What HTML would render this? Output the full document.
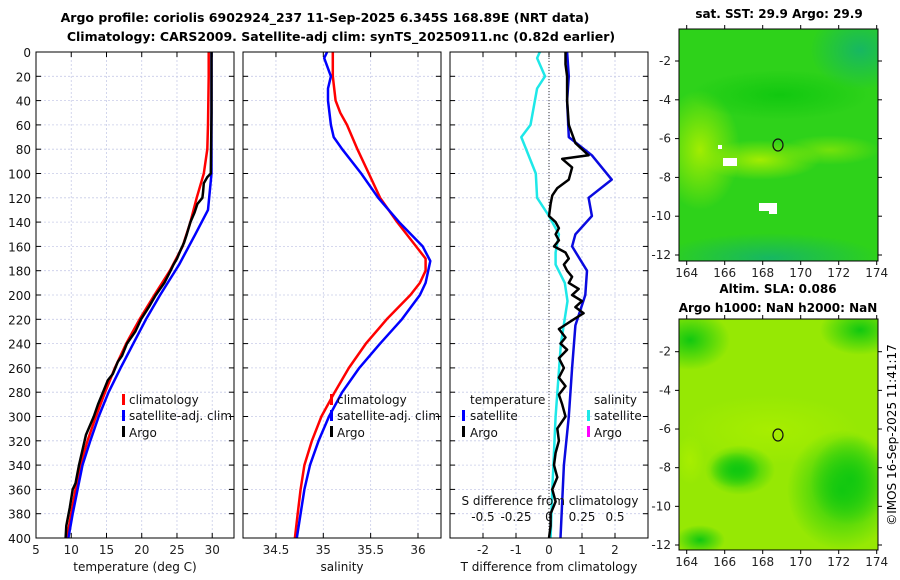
<!DOCTYPE html>
<html><head><meta charset="utf-8"><style>
body{margin:0;background:#fff;}
svg{display:block;font-family:"DejaVu Sans","Liberation Sans",sans-serif;}
</style></head><body>
<svg id="c" width="900" height="580" viewBox="0 0 900 580">
<defs>
<radialGradient id="yg1" cx="50%" cy="50%" r="50%"><stop offset="0" stop-color="#a8ee00" stop-opacity="0.95"/><stop offset="1" stop-color="#a8ee00" stop-opacity="0"/></radialGradient>
<radialGradient id="gr1" cx="50%" cy="50%" r="50%"><stop offset="0" stop-color="#11c810" stop-opacity="1"/><stop offset="1" stop-color="#11c810" stop-opacity="0"/></radialGradient>
<radialGradient id="tl1" cx="50%" cy="50%" r="50%"><stop offset="0" stop-color="#14b46a" stop-opacity="0.9"/><stop offset="1" stop-color="#14b46a" stop-opacity="0"/></radialGradient>
<clipPath id="cm1"><rect x="679" y="29" width="199" height="232"/></clipPath>
<clipPath id="cm2"><rect x="679" y="319" width="199" height="231"/></clipPath>
</defs>
<text x="325" y="22" font-size="12.5" font-weight="bold" text-anchor="middle">Argo profile: coriolis 6902924_237 11-Sep-2025 6.345S 168.89E (NRT data)</text>
<text x="341" y="41" font-size="12.5" font-weight="bold" text-anchor="middle">Climatology: CARS2009. Satellite-adj clim: synTS_20250911.nc (0.82d earlier)</text>
<g id="plots"></g>
<g>
<text x="779" y="18" font-size="12" font-weight="bold" text-anchor="middle">sat. SST: 29.9 Argo: 29.9</text>
<g clip-path="url(#cm1)">
<rect x="679" y="29" width="199" height="232" fill="#2ed21a"/>
<ellipse cx="860" cy="50" rx="50" ry="40" fill="url(#tl1)"/>
<ellipse cx="700" cy="150" rx="40" ry="60" fill="url(#yg1)"/>
<ellipse cx="760" cy="160" rx="60" ry="20" fill="url(#yg1)"/>
<ellipse cx="830" cy="150" rx="50" ry="15" fill="url(#yg1)" opacity="0.6"/>
<ellipse cx="780" cy="95" rx="90" ry="25" fill="url(#gr1)"/>
<ellipse cx="770" cy="258" rx="110" ry="25" fill="url(#tl1)"/>
<rect x="723" y="158" width="14" height="8" fill="#fff"/>
<rect x="759" y="203" width="18" height="8" fill="#fff"/>
<rect x="769" y="208" width="8" height="6" fill="#fff"/>
<rect x="718" y="145" width="4" height="4" fill="#fff"/>
</g>
<rect x="679" y="29" width="199" height="232" fill="none" stroke="#000" stroke-width="1"/>
<ellipse cx="778" cy="145" rx="5" ry="6" fill="none" stroke="#111" stroke-width="1.2"/>
</g>
<g>
<text x="778" y="293" font-size="12" font-weight="bold" text-anchor="middle">Altim. SLA: 0.086</text>
<text x="778" y="312" font-size="12" font-weight="bold" text-anchor="middle">Argo h1000: NaN h2000: NaN</text>
<g clip-path="url(#cm2)">
<rect x="679" y="319" width="199" height="231" fill="#96e804"/>
<ellipse cx="770" cy="430" rx="90" ry="35" fill="url(#yg1)"/>
<ellipse cx="690" cy="340" rx="40" ry="30" fill="url(#gr1)"/>
<ellipse cx="860" cy="330" rx="40" ry="25" fill="url(#gr1)"/>
<ellipse cx="842" cy="490" rx="55" ry="60" fill="url(#gr1)"/>
<ellipse cx="850" cy="480" rx="40" ry="45" fill="url(#gr1)"/>
<ellipse cx="740" cy="470" rx="35" ry="25" fill="url(#gr1)"/>
<ellipse cx="735" cy="470" rx="25" ry="18" fill="url(#gr1)"/>
<ellipse cx="700" cy="540" rx="25" ry="15" fill="url(#gr1)"/>
<ellipse cx="690" cy="460" rx="15" ry="25" fill="url(#yg1)"/>
</g>
<rect x="679" y="319" width="199" height="231" fill="none" stroke="#000" stroke-width="1"/>
<ellipse cx="778" cy="435" rx="5" ry="6" fill="none" stroke="#111" stroke-width="1.2"/>
<text transform="translate(896,435) rotate(-90)" font-size="12" text-anchor="middle">©IMOS 16-Sep-2025 11:41:17</text>
</g>
<g id="mapaxes"></g>
</svg>
<script>
const depthTicks=[0,20,40,60,80,100,120,140,160,180,200,220,240,260,280,300,320,340,360,380,400];
const tempTicks=[5,10,15,20,25,30];
const salTicks=[34.5,35,35.5,36];
const tdiffTicks=[-2,-1,0,1,2];
const sdiffTicks=[-0.5,-0.25,0,0.25,0.5];
const sdiffTickLabels=["-0.5","-0.25","0","0.25","0.5"];
const climTDepth=[0,20,60,80,100,120,140,160,180,200,220,240,260,280,300,320,340,360,380,400];
const climTemp=[29.5,29.5,29.4,29.3,28.8,27.8,26.9,25.8,24.0,21.8,19.7,17.8,16.2,14.8,13.5,12.3,11.3,10.6,10.0,9.4];
const satTDepth=[0,50,100,130,150,175,200,220,240,260,280,300,320,340,360,380,400];
const satTemp=[29.9,29.9,29.9,29.4,27.6,25.3,22.6,20.6,18.8,17.0,15.3,13.9,12.7,11.6,10.9,10.2,9.6];
const argoDepth=[0,50,100,103,108,115,120,125,132,140,150,157,162,170,175,180,190,200,210,220,230,240,250,255,265,270,280,290,300,315,320,340,355,360,375,390,400];
const argoTemp=[29.9,29.9,29.8,29.3,28.8,28.7,28.6,27.9,27.5,26.9,26.4,26.0,25.6,25.0,24.5,24.1,23.2,22.0,21.0,19.9,19.1,17.9,17.2,16.6,15.9,15.2,14.5,13.8,13.2,12.1,11.9,11.1,10.6,10.2,9.8,9.3,9.2];
const climSDepth=[0,20,40,50,60,80,100,120,140,160,170,180,190,200,220,240,260,280,300,320,340,360,380,400];
const climSal=[35.1,35.1,35.13,35.18,35.25,35.36,35.48,35.6,35.78,35.98,36.08,36.08,36.02,35.92,35.67,35.45,35.27,35.12,34.98,34.88,34.8,34.76,34.73,34.7];
const satSDepth=[0,5,20,30,40,60,70,80,100,120,140,160,172,190,200,220,240,260,280,300,320,340,360,380,400];
const satSal=[35.04,35.01,35.08,35.05,35.05,35.08,35.11,35.2,35.4,35.58,35.8,36.05,36.13,36.08,36.02,35.83,35.6,35.38,35.2,35.06,34.95,34.86,34.8,34.76,34.72];
const tdSatDepth=[0,20,40,70,85,105,120,135,150,160,180,200,225,260,300,340,400];
const tdSat=[0.55,0.6,0.55,0.6,1.3,1.9,1.2,1.3,0.8,0.7,1.15,1.1,0.8,0.7,0.6,0.45,0.35];
const tdArgoDepth=[0,10,20,40,60,75,85,88,95,105,112,118,125,135,140,145,150,155,160,165,170,175,180,185,190,195,200,205,210,215,220,228,235,240,245,252,260,268,275,282,290,300,310,320,330,340,350,360,370,380,390,400];
const tdArgo=[0.5,0.5,0.55,0.55,0.6,0.8,1.2,0.4,0.7,0.6,0.25,0.1,0.05,0.0,0.2,0.3,0.2,0.3,0.15,0.5,0.6,0.45,0.55,0.7,0.6,0.9,0.7,1.0,0.8,1.05,0.75,0.3,0.5,0.35,0.55,0.3,0.45,0.3,0.5,0.3,0.4,0.5,0.25,0.3,0.2,0.15,0.25,0.1,0.2,0.05,0.05,0.0];
const sdSatDepth=[0,5,20,30,60,70,100,120,135,150,165,175,190,205,240,300,360,400];
const sdSat=[-0.07,-0.09,-0.03,-0.09,-0.14,-0.21,-0.1,-0.09,0,0.075,0.05,0.05,0.12,0.14,0.09,0.05,0.025,0.012];

const NS="http://www.w3.org/2000/svg";
const svg=document.getElementById('plots');
function mk(t,a,p){const e=document.createElementNS(NS,t);for(const k in a)e.setAttribute(k,a[k]);(p||svg).appendChild(e);return e;}
const Y0=52,Y1=538;
const yD=d=>Y0+d*(Y1-Y0)/400;
function axX(x0,x1,v0,v1){return v=>x0+(v-v0)*(x1-x0)/(v1-v0);}
const P=[{x0:36,x1:234,f:axX(36,234,5,33.09)},{x0:243,x1:441,f:axX(243,441,34.152,36.243)},{x0:450,x1:648,f:axX(450,648,-3,3)}];
const sx=v=>P[2].f(v*4);

function frame(p,ticks,name){
  const g=mk('g',{});
  
  
  depthTicks.forEach(d=>{const y=yD(d);
    if(d>0&&d<400){const l=mk('line',{x1:p.x0,x2:p.x1,y1:y,y2:y,stroke:'#c8cce8','stroke-width':0.8,'stroke-dasharray':'2,2'},g);}
    mk('line',{x1:p.x0,x2:p.x0+5,y1:y,y2:y,stroke:'#000'},g);mk('line',{x1:p.x1-5,x2:p.x1,y1:y,y2:y,stroke:'#000'},g);});
  ticks.forEach(v=>{const x=p.f(v);
    const l=mk('line',{x1:x,x2:x,y1:Y0,y2:Y1,stroke:'#c8cce8','stroke-width':0.8,'stroke-dasharray':'2,2'},g);
    mk('line',{x1:x,x2:x,y1:Y1-5,y2:Y1,stroke:'#000'},g);mk('line',{x1:x,x2:x,y1:Y0,y2:Y0+5,stroke:'#000'},g);
    const t=mk('text',{x:x,y:Y1+16,'font-size':12,'text-anchor':'middle',fill:'#222'},g);t.textContent=v;
    });
  return g;
}
function border(p){mk('rect',{x:p.x0,y:Y0,width:p.x1-p.x0,height:Y1-Y0,fill:'none',stroke:'#000','stroke-width':1});}
function line(xs,ds,fx,color,name,w){
  const pts=xs.map((v,i)=>fx(v).toFixed(1)+','+yD(ds[i]).toFixed(1)).join(' ');
  const e=mk('polyline',{points:pts,fill:'none',stroke:color,'stroke-width':w||2.5,'stroke-linejoin':'round'});
  
  
}
function txt(x,y,s,name,size,anchor){const t=mk('text',{x:x,y:y,'font-size':size||12,'text-anchor':anchor||'start',fill:'#111'});t.textContent=s;return t;}
function legMark(x,y,color,name){const r=mk('rect',{x:x,y:y-11,width:3,height:11,fill:color});}

frame(P[0],tempTicks,'temperature-panel');
depthTicks.forEach(d=>txt(31,yD(d)+5,String(d),'depth-tick-label',12,'end'));
line(climTemp,climTDepth,P[0].f,'#f00','temp-climatology-line');
line(satTemp,satTDepth,P[0].f,'#00f','temp-satellite-line');
line(argoTemp,argoDepth,P[0].f,'#000','temp-argo-line');
border(P[0]);
txt(135,571,'temperature (deg C)','x-axis-title-temperature',12,'middle');
legMark(122,405,'#f00','legend-climatology-marker');txt(129,404,'climatology','legend-climatology');
legMark(122,421,'#00f','legend-satellite-marker');txt(129,420,'satellite-adj. clim','legend-satellite-adj');
legMark(122,437,'#000','legend-argo-marker');txt(129,437,'Argo','legend-argo');

frame(P[1],salTicks,'salinity-panel');
line(climSal,climSDepth,P[1].f,'#f00','sal-climatology-line');
line(satSal,satSDepth,P[1].f,'#00f','sal-satellite-line');
border(P[1]);
txt(342,571,'salinity','x-axis-title-salinity',12,'middle');
legMark(330,405,'#f00','legend2-climatology-marker');txt(337,404,'climatology','legend2-climatology');
legMark(330,421,'#00f','legend2-satellite-marker');txt(337,420,'satellite-adj. clim','legend2-satellite-adj');
legMark(330,437,'#000','legend2-argo-marker');txt(337,437,'Argo','legend2-argo');

frame(P[2],tdiffTicks,'difference-panel');
const z=mk('line',{x1:P[2].f(0),x2:P[2].f(0),y1:Y0,y2:Y1,stroke:'#333','stroke-width':1,'stroke-dasharray':'1,2'});

line(sdSat,sdSatDepth,sx,'#1ee8e8','sal-diff-satellite-line');
line(tdSat,tdSatDepth,P[2].f,'#0a0ae0','temp-diff-satellite-line');
line(tdArgo,tdArgoDepth,P[2].f,'#000','temp-diff-argo-line');
border(P[2]);
txt(549,571,'T difference from climatology','x-axis-title-tdiff',12,'middle');
txt(550,505,'S difference from climatology','s-axis-title',12,'middle');
sdiffTicks.forEach((v,i)=>txt(sx(v),521,sdiffTickLabels[i],'s-tick-label',12,'middle'));
txt(470,404,'temperature','legend3-temperature-header');
legMark(462,421,'#00f','legend3-t-satellite-marker');txt(470,420,'satellite','legend3-t-satellite');
legMark(462,437,'#000','legend3-t-argo-marker');txt(470,437,'Argo','legend3-t-argo');
txt(594,404,'salinity','legend3-salinity-header');
legMark(587,421,'#1ee8e8','legend3-s-satellite-marker');txt(594,420,'satellite','legend3-s-satellite');
legMark(587,437,'#f0f','legend3-s-argo-marker');txt(594,437,'Argo','legend3-s-argo');

const ma=document.getElementById('mapaxes');
const lonTicks=[164,166,168,170,172,174];
const latTicks=[-2,-4,-6,-8,-10,-12];
const lonX=v=>686.7+(v-164)*19;
[[29,261,61,255],[319,550,351.7,545]].forEach(m=>{
  const latY=v=>m[2]+(-2-v)*(m[3]-m[2])/10;
  lonTicks.forEach(v=>{const x=lonX(v);mk('line',{x1:x,x2:x,y1:m[1],y2:m[1]+4,stroke:'#000'},ma);mk('line',{x1:x,x2:x,y1:m[0]-4,y2:m[0],stroke:'#000'},ma);
    const t=mk('text',{x:x,y:m[1]+16,'font-size':12,'text-anchor':'middle',fill:'#222'},ma);t.textContent=v;});
  latTicks.forEach(v=>{const y=latY(v);mk('line',{x1:675,x2:679,y1:y,y2:y,stroke:'#000'},ma);mk('line',{x1:878,x2:882,y1:y,y2:y,stroke:'#000'},ma);
    const t=mk('text',{x:671,y:y+4,'font-size':12,'text-anchor':'end',fill:'#222'},ma);t.textContent=v;});
});
</script>
</body></html>
